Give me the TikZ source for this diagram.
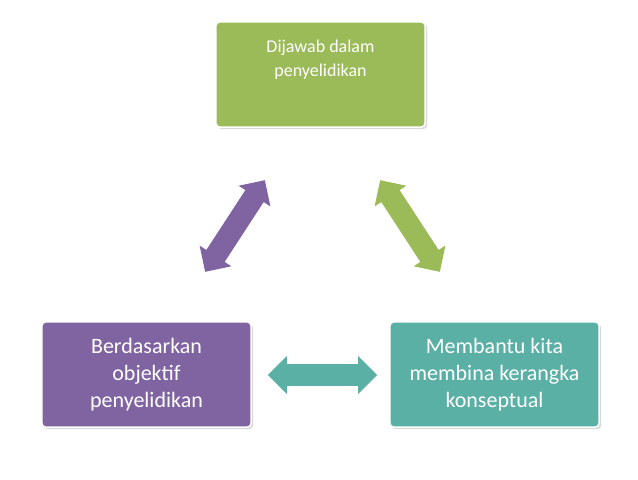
\documentclass[tikz,border=0pt]{standalone}
\usepackage{fontspec}
\setmainfont{Carlito}
\usetikzlibrary{shapes.arrows,shadows}
\definecolor{cgreen}{HTML}{9BBB59}
\definecolor{cpurple}{HTML}{8064A2}
\definecolor{cteal}{HTML}{5AB0A4}
\begin{document}
\begin{tikzpicture}[x=0.75pt,y=-0.75pt,
  box/.style={draw=white,line width=1.2pt,rounded corners=3pt,minimum width=157pt,minimum height=79pt,text=white,align=center,drop shadow={shadow xshift=1.5pt,shadow yshift=-1.5pt,opacity=0.3}},
  darr/.style={double arrow,minimum height=82pt,inner xsep=0pt,inner ysep=8pt,double arrow head extend=6pt,draw=none}]
\useasboundingbox (0,0) rectangle (638,479);
\node[box,fill=cgreen,font=\fontsize{13.5}{18}\selectfont] (t) at (320.5,74.5) {Dijawab dalam\\penyelidikan\\[6pt]};
\node[box,fill=cpurple,font=\fontsize{16.5}{20}\selectfont] (l) at (146.5,374.5) {Berdasarkan\\objektif\\penyelidikan};
\node[box,fill=cteal,font=\fontsize{16.5}{20}\selectfont] (r) at (494.5,374.5) {Membantu kita\\membina kerangka\\konseptual};
\node[darr,fill=cpurple,rotate=56.9] (a1) at (235,226) {};
\node[darr,fill=cgreen,rotate=123.1] (a2) at (410,226) {};
\node[darr,fill=cteal] (a3) at (322.5,375) {};
\end{tikzpicture}
\end{document}
